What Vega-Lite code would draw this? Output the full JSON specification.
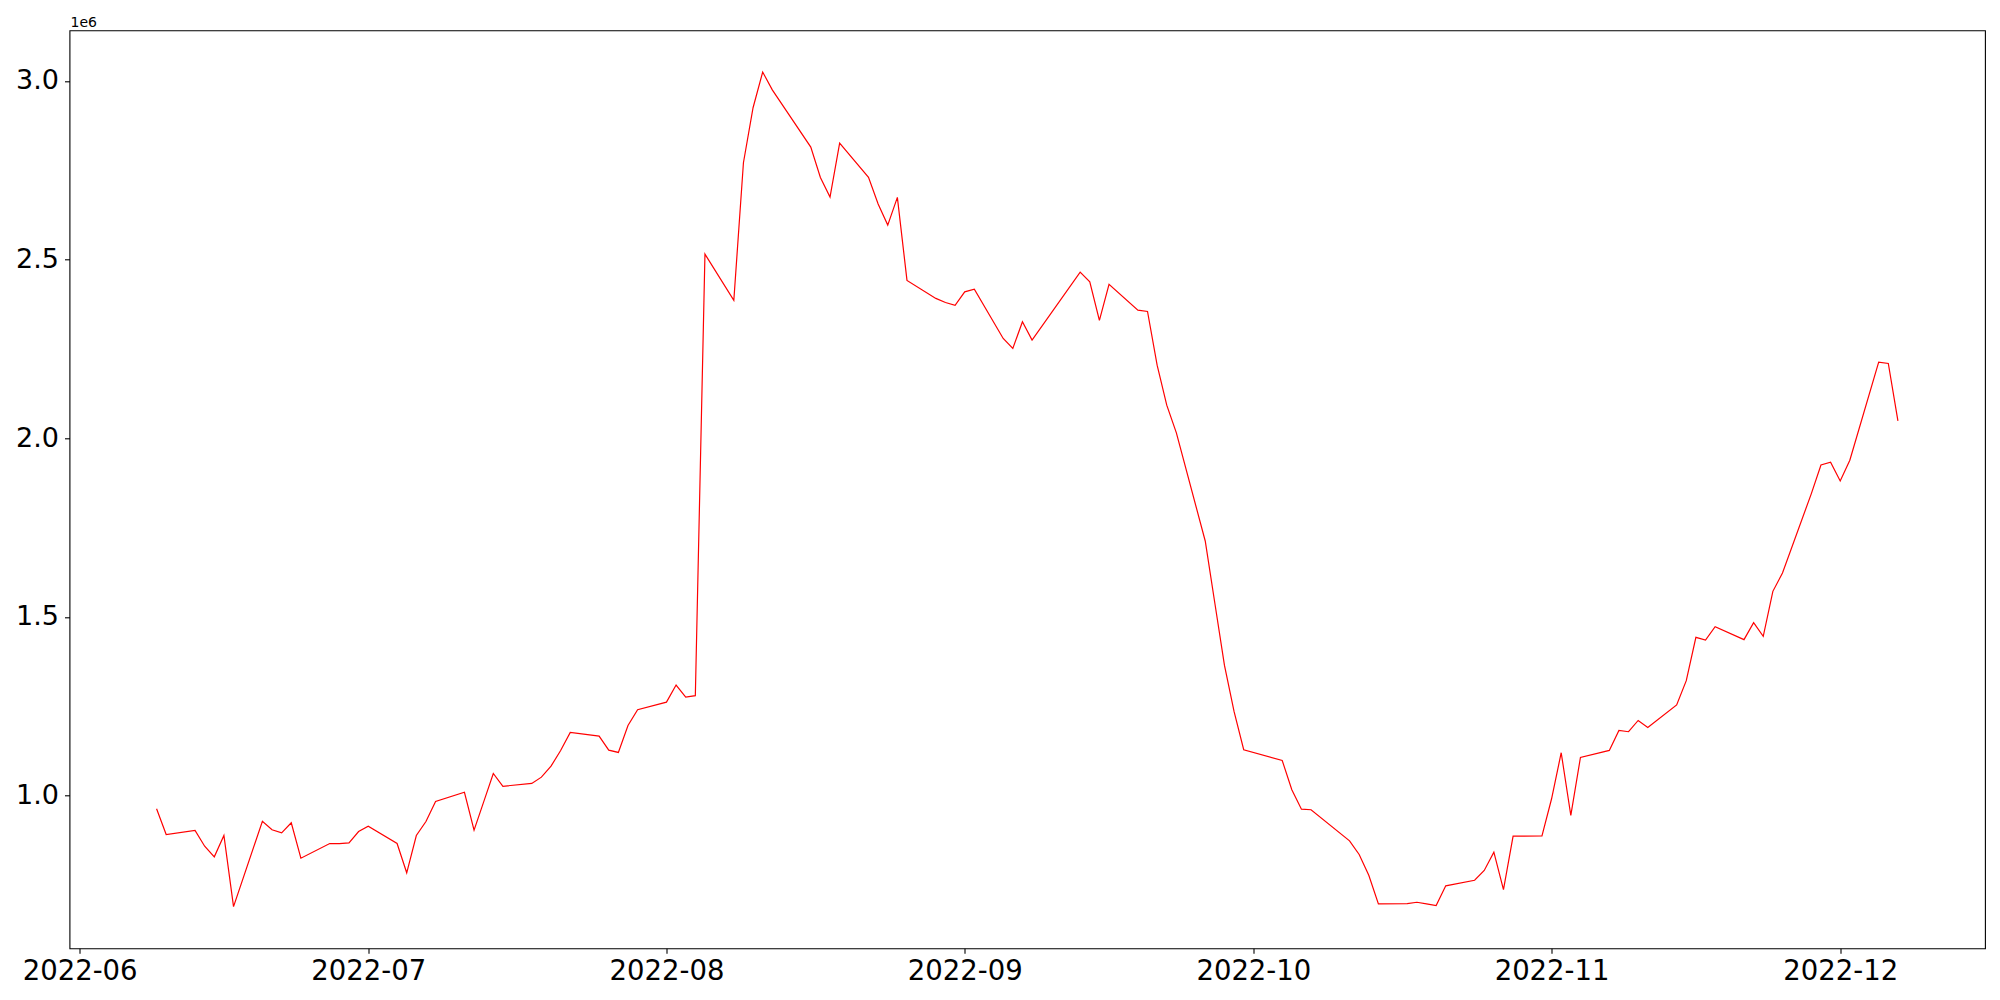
{
  "$schema": "https://vega.github.io/schema/vega-lite/v6.json",
  "autosize": {"type": "none"},
  "padding": {"left": 69.5, "top": 30.3, "right": 15, "bottom": 51.7},
  "width": 1915.5,
  "height": 918,
  "background": "white",
  "config": {
    "font": "DejaVu Sans",
    "view": {"stroke": "black", "strokeWidth": 1.1},
    "axis": {"grid": false, "domain": false, "tickColor": "black", "tickWidth": 1.1, "tickSize": 5, "labelColor": "black", "labelFont": "DejaVu Sans"}
  },
  "title": {"text": "1e6", "anchor": "start", "frame": "group", "fontSize": 14, "fontWeight": "normal", "font": "DejaVu Sans", "color": "black", "offset": 5, "baseline": "alphabetic", "dy": 16, "dx": 1},
  "data": {"values": [
    {"date": "2022-06-09", "value": 962700},
    {"date": "2022-06-10", "value": 890800},
    {"date": "2022-06-13", "value": 902000},
    {"date": "2022-06-14", "value": 858000},
    {"date": "2022-06-15", "value": 828300},
    {"date": "2022-06-16", "value": 888000},
    {"date": "2022-06-17", "value": 689000},
    {"date": "2022-06-20", "value": 928000},
    {"date": "2022-06-21", "value": 904000},
    {"date": "2022-06-22", "value": 895500},
    {"date": "2022-06-23", "value": 923500},
    {"date": "2022-06-24", "value": 824400},
    {"date": "2022-06-27", "value": 865500},
    {"date": "2022-06-28", "value": 865000},
    {"date": "2022-06-29", "value": 867500},
    {"date": "2022-06-30", "value": 899000},
    {"date": "2022-07-01", "value": 914000},
    {"date": "2022-07-04", "value": 865500},
    {"date": "2022-07-05", "value": 783500},
    {"date": "2022-07-06", "value": 888000},
    {"date": "2022-07-07", "value": 927000},
    {"date": "2022-07-08", "value": 983000},
    {"date": "2022-07-11", "value": 1009000},
    {"date": "2022-07-12", "value": 902800},
    {"date": "2022-07-13", "value": 982000},
    {"date": "2022-07-14", "value": 1061600},
    {"date": "2022-07-15", "value": 1025800},
    {"date": "2022-07-18", "value": 1033600},
    {"date": "2022-07-19", "value": 1051300},
    {"date": "2022-07-20", "value": 1082000},
    {"date": "2022-07-21", "value": 1126000},
    {"date": "2022-07-22", "value": 1176500},
    {"date": "2022-07-25", "value": 1166000},
    {"date": "2022-07-26", "value": 1126800},
    {"date": "2022-07-27", "value": 1120400},
    {"date": "2022-07-28", "value": 1196000},
    {"date": "2022-07-29", "value": 1240000},
    {"date": "2022-08-01", "value": 1261300},
    {"date": "2022-08-02", "value": 1309000},
    {"date": "2022-08-03", "value": 1275400},
    {"date": "2022-08-04", "value": 1279300},
    {"date": "2022-08-05", "value": 2515400},
    {"date": "2022-08-08", "value": 2385700},
    {"date": "2022-08-09", "value": 2771000},
    {"date": "2022-08-10", "value": 2925000},
    {"date": "2022-08-11", "value": 3025000},
    {"date": "2022-08-12", "value": 2975000},
    {"date": "2022-08-16", "value": 2815000},
    {"date": "2022-08-17", "value": 2730000},
    {"date": "2022-08-18", "value": 2675000},
    {"date": "2022-08-19", "value": 2826000},
    {"date": "2022-08-22", "value": 2730000},
    {"date": "2022-08-23", "value": 2655500},
    {"date": "2022-08-24", "value": 2596600},
    {"date": "2022-08-25", "value": 2674000},
    {"date": "2022-08-26", "value": 2441700},
    {"date": "2022-08-29", "value": 2391300},
    {"date": "2022-08-30", "value": 2380000},
    {"date": "2022-08-31", "value": 2371700},
    {"date": "2022-09-01", "value": 2409800},
    {"date": "2022-09-02", "value": 2417400},
    {"date": "2022-09-05", "value": 2279300},
    {"date": "2022-09-06", "value": 2251300},
    {"date": "2022-09-07", "value": 2325800},
    {"date": "2022-09-08", "value": 2274500},
    {"date": "2022-09-13", "value": 2465000},
    {"date": "2022-09-14", "value": 2437800},
    {"date": "2022-09-15", "value": 2329700},
    {"date": "2022-09-16", "value": 2430500},
    {"date": "2022-09-19", "value": 2358500},
    {"date": "2022-09-20", "value": 2354900},
    {"date": "2022-09-21", "value": 2204500},
    {"date": "2022-09-22", "value": 2092400},
    {"date": "2022-09-23", "value": 2014800},
    {"date": "2022-09-26", "value": 1712300},
    {"date": "2022-09-27", "value": 1538000},
    {"date": "2022-09-28", "value": 1364100},
    {"date": "2022-09-29", "value": 1234500},
    {"date": "2022-09-30", "value": 1128000},
    {"date": "2022-10-04", "value": 1098000},
    {"date": "2022-10-05", "value": 1016000},
    {"date": "2022-10-06", "value": 961600},
    {"date": "2022-10-07", "value": 960000},
    {"date": "2022-10-11", "value": 873100},
    {"date": "2022-10-12", "value": 834700},
    {"date": "2022-10-13", "value": 776800},
    {"date": "2022-10-14", "value": 696600},
    {"date": "2022-10-17", "value": 697000},
    {"date": "2022-10-18", "value": 701100},
    {"date": "2022-10-19", "value": 696600},
    {"date": "2022-10-20", "value": 691900},
    {"date": "2022-10-21", "value": 747000},
    {"date": "2022-10-24", "value": 762700},
    {"date": "2022-10-25", "value": 790000},
    {"date": "2022-10-26", "value": 841200},
    {"date": "2022-10-27", "value": 736700},
    {"date": "2022-10-28", "value": 886000},
    {"date": "2022-10-31", "value": 887000},
    {"date": "2022-11-01", "value": 990800},
    {"date": "2022-11-02", "value": 1119600},
    {"date": "2022-11-03", "value": 944000},
    {"date": "2022-11-04", "value": 1106400},
    {"date": "2022-11-07", "value": 1126000},
    {"date": "2022-11-08", "value": 1182000},
    {"date": "2022-11-09", "value": 1178400},
    {"date": "2022-11-10", "value": 1210000},
    {"date": "2022-11-11", "value": 1190000},
    {"date": "2022-11-14", "value": 1253500},
    {"date": "2022-11-15", "value": 1321300},
    {"date": "2022-11-16", "value": 1442600},
    {"date": "2022-11-17", "value": 1435000},
    {"date": "2022-11-18", "value": 1472500},
    {"date": "2022-11-21", "value": 1436100},
    {"date": "2022-11-22", "value": 1483700},
    {"date": "2022-11-23", "value": 1445400},
    {"date": "2022-11-24", "value": 1571400},
    {"date": "2022-11-25", "value": 1622700},
    {"date": "2022-11-28", "value": 1845000},
    {"date": "2022-11-29", "value": 1925200},
    {"date": "2022-11-30", "value": 1932800},
    {"date": "2022-12-01", "value": 1880400},
    {"date": "2022-12-02", "value": 1938400},
    {"date": "2022-12-05", "value": 2212900},
    {"date": "2022-12-06", "value": 2209200},
    {"date": "2022-12-07", "value": 2048500}
  ]},
  "mark": {"type": "line", "color": "#ff0000", "strokeWidth": 1.2, "clip": true},
  "encoding": {
    "x": {
      "field": "date", "type": "temporal",
      "scale": {"type": "utc", "domain": [
        {"year": 2022, "month": 5, "date": 30, "hours": 22, "minutes": 48, "utc": true},
        {"year": 2022, "month": 12, "date": 16, "hours": 1, "minutes": 12, "utc": true}
      ]},
      "axis": {
        "title": null, "format": "%Y-%m", "labelPadding": 4, "labelFontSize": 27.5, "labelFlush": false, "labelOverlap": false,
        "values": [
          {"year": 2022, "month": 6, "date": 1, "utc": true},
          {"year": 2022, "month": 7, "date": 1, "utc": true},
          {"year": 2022, "month": 8, "date": 1, "utc": true},
          {"year": 2022, "month": 9, "date": 1, "utc": true},
          {"year": 2022, "month": 10, "date": 1, "utc": true},
          {"year": 2022, "month": 11, "date": 1, "utc": true},
          {"year": 2022, "month": 12, "date": 1, "utc": true}
        ]
      }
    },
    "y": {
      "field": "value", "type": "quantitative",
      "scale": {"domain": [572200, 3141800], "nice": false, "zero": false},
      "axis": {
        "title": null, "values": [1000000, 1500000, 2000000, 2500000, 3000000],
        "labelExpr": "format(datum.value / 1000000, '.1f')", "labelPadding": 6, "labelFontSize": 27, "labelFlush": false, "labelOverlap": false
      }
    }
  }
}
